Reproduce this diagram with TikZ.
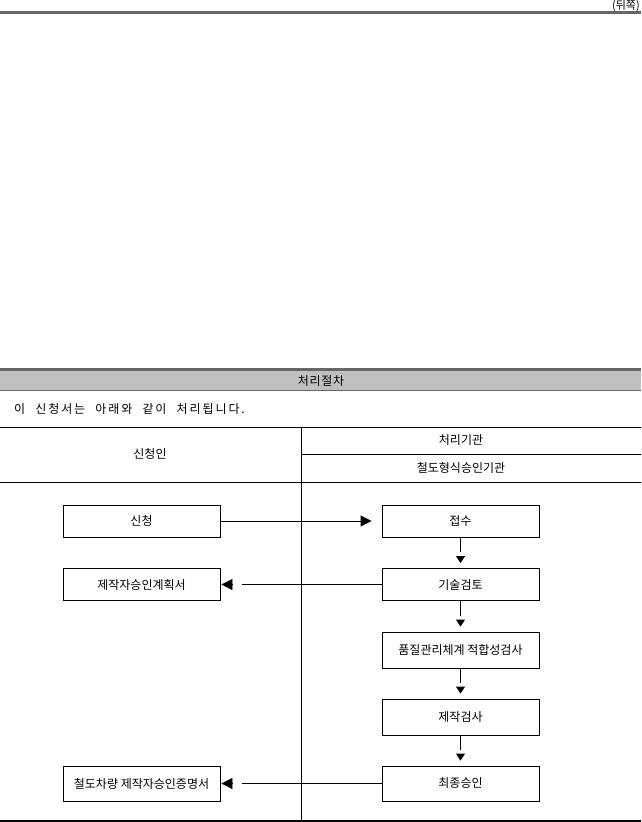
\documentclass[tikz,border=0pt]{standalone}
\usepackage{fontspec}
\setmainfont{Noto Sans CJK KR}
\newfontfamily\introfont[LetterSpace=16,WordSpace=2.2]{Noto Sans CJK KR}
\newfontfamily\titlefont[LetterSpace=6]{Noto Sans CJK KR}
\usetikzlibrary{arrows.meta}
\definecolor{barline}{HTML}{666666}
\definecolor{barfill}{HTML}{C0C0C0}
\begin{document}
\begin{tikzpicture}[x=1pt,y=-1pt,
  every node/.style={font=\fontsize{12}{14}\selectfont, inner sep=0pt},
  stepbox/.style={draw, line width=0.9pt, minimum width=157pt, minimum height=32pt, anchor=center},
  rule/.style={line width=0.9pt},
  conn/.style={line width=0.9pt},
  htip/.style={line width=0.9pt, -{Triangle[length=11pt,width=11pt]}},
  vtip/.style={line width=0.9pt, -{Triangle[length=7pt,width=9pt]}}
]
\useasboundingbox (0,0) rectangle (641,822);

% page header
\node[anchor=north east, font=\fontsize{11}{13}\selectfont] (pg) at (640,0) {(뒤쪽)};
\draw[barline, line width=3pt] (0,12) -- (641,12);

% section bar
\fill[barfill] (0,370) rectangle (641,390.5);
\draw[barline, line width=3pt] (0,369) -- (641,369);
\draw[barline, line width=1.5pt] (0,390.5) -- (641,390.5);
\node[font=\titlefont\fontsize{12}{14}\selectfont] (title) at (321,381) {처리절차};

\node[anchor=west, font=\introfont\fontsize{12}{14}\selectfont] (intro) at (14,409) {이 신청서는 아래와 같이 처리됩니다.};

% table grid
\draw[rule] (0,427) -- (641,427);
\draw[rule] (301,454) -- (641,454);
\draw[rule] (0,482) -- (641,482);
\draw[rule] (301,427) -- (301,821);
\draw[line width=1.3pt] (0,821) -- (641,821);

\node (hA) at (150,454) {신청인};
\node (hB) at (461,440) {처리기관};
\node (hC) at (461,468) {철도형식승인기관};

% boxes
\node[stepbox] (apply) at (141.5,521) {신청};
\node[stepbox] (receive) at (460.5,521) {접수};
\node[stepbox] (plan) at (141.5,584.5) {제작자승인계획서};
\node[stepbox] (review) at (460.5,584.5) {기술검토};
\node[stepbox, minimum height=36pt] (quality) at (460.5,650) {품질관리체계 적합성검사};
\node[stepbox, minimum height=36pt] (make) at (460.5,717) {제작검사};
\node[stepbox, minimum height=35pt] (final) at (460.5,783.5) {최종승인};
\node[stepbox, minimum height=35pt] (cert) at (141.5,783.5) {철도차량 제작자승인증명서};

% connectors
\draw[htip, shorten >=10pt] (apply.east) -- (receive.west);

\draw[conn, shorten >=22pt] (review.west) -- (plan.east);
\draw[htip, shorten >=1pt, shorten <=149pt] (review.west) -- (plan.east);

\draw[conn, shorten >=22pt] (final.west) -- (cert.east);
\draw[htip, shorten >=1pt, shorten <=149pt] (final.west) -- (cert.east);

\foreach \a/\b in {receive/review, review/quality, quality/make, make/final}{
  \draw[conn, shorten >=16pt] (\a.south) -- (\b.north);
  \draw[vtip, shorten >=5pt, shorten <=19pt] (\a.south) -- (\b.north);
}
\end{tikzpicture}
\end{document}
